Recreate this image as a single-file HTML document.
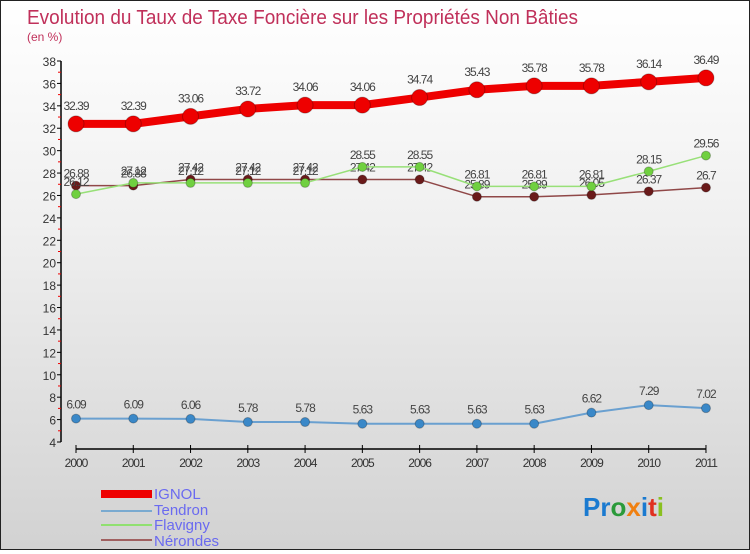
<!DOCTYPE html>
<html><head><meta charset="utf-8"><style>
html,body{margin:0;padding:0;}
body{width:750px;height:550px;overflow:hidden;font-family:"Liberation Sans","DejaVu Sans",sans-serif;}
#wrap{position:relative;width:748px;height:548px;border:1px solid #222;background:linear-gradient(#ffffff,#f0f0f0 40%,#d2d2d2);}
svg text{font-family:"Liberation Sans","DejaVu Sans",sans-serif;}
</style></head><body>
<div id="wrap">
<svg id="chart" width="748" height="548">
<text x="26" y="23" font-size="20" fill="#c0305a" textLength="551" lengthAdjust="spacingAndGlyphs">Evolution du Taux de Taxe Foncière sur les Propriétés Non Bâties</text>
<text x="26" y="40" font-size="12" fill="#c0305a">(en %)</text>
<g id="axes"></g><g id="series"></g>
<g>
<rect x="100" y="489" width="51" height="8" fill="#e00"/>
<text x="153" y="498" font-size="15" fill="#6a6af0">IGNOL</text>
<rect x="100" y="509" width="51" height="2" fill="#7aaad0"/>
<text x="153" y="514" font-size="15" fill="#6a6af0">Tendron</text>
<rect x="100" y="523" width="51" height="2" fill="#90e070"/>
<text x="153" y="529" font-size="15" fill="#6a6af0">Flavigny</text>
<rect x="100" y="538" width="51" height="2" fill="#a06060"/>
<text x="153" y="545" font-size="15" fill="#6a6af0">Nérondes</text>
</g>
<text x="582" y="515" font-size="26" font-weight="bold"><tspan fill="#1a7ad0">Pr</tspan><tspan fill="#2a9a3a">o</tspan><tspan fill="#f08010">x</tspan><tspan fill="#1a7ad0">i</tspan><tspan fill="#e03020">t</tspan><tspan fill="#8ac020">i</tspan></text>
</svg></div>
<script>
const years=["2000","2001","2002","2003","2004","2005","2006","2007","2008","2009","2010","2011"];
const yTicks=[4,6,8,10,12,14,16,18,20,22,24,26,28,30,32,34,36,38];
const ignol=[32.39,32.39,33.06,33.72,34.06,34.06,34.74,35.43,35.78,35.78,36.14,36.49];
const tendron=[6.09,6.09,6.06,5.78,5.78,5.63,5.63,5.63,5.63,6.62,7.29,7.02];
const flavigny=[26.12,27.12,27.12,27.12,27.12,28.55,28.55,26.81,26.81,26.81,28.15,29.56];
const nerondes=[26.88,26.88,27.42,27.42,27.42,27.42,27.42,25.89,25.89,26.05,26.37,26.7];
const NS="http://www.w3.org/2000/svg";
const X=i=>75+i*57.27;
const Y=v=>441-(v-4)*(381/34);
function mk(t,a,p){const e=document.createElementNS(NS,t);for(const k in a)e.setAttribute(k,a[k]);p.appendChild(e);return e;}
const ax=document.getElementById('axes');
const ya=mk('line',{x1:60,y1:Y(38),x2:60,y2:Y(4),stroke:'#000','stroke-width':1.5},ax);


yTicks.forEach(v=>{
 mk('line',{x1:56,y1:Y(v),x2:60,y2:Y(v),stroke:'#000'},ax);
 if(v<38)mk('line',{x1:57,y1:Y(v+1),x2:60,y2:Y(v+1),stroke:'#e00'},ax);
 const t=mk('text',{x:55,y:Y(v)+5,'font-size':12,fill:'#333','text-anchor':'end'},ax);
 t.textContent=v;
 
 
});
const xa=mk('line',{x1:75,y1:448,x2:X(11),y2:448,stroke:'#000','stroke-width':1.5},ax);


years.forEach((y,i)=>{
 mk('line',{x1:X(i),y1:444,x2:X(i),y2:452,stroke:'#000'},ax);
 const t=mk('text',{x:X(i),y:466,'font-size':12,fill:'#333','text-anchor':'middle','letter-spacing':'-1'},ax);
 t.textContent=y;
 
 
});
const sg=document.getElementById('series');
function series(name,data,color,lw,r,dotFill,labelDy){
 const g=mk('g',{},sg);
 
 
 mk('polyline',{points:data.map((v,i)=>X(i)+','+Y(v)).join(' '),fill:'none',stroke:color,'stroke-width':lw,'stroke-linejoin':'round'},g);
 data.forEach((v,i)=>{
  const c=mk('circle',{cx:X(i),cy:Y(v),r:r,fill:dotFill,stroke:'rgba(0,0,0,0.25)','stroke-width':1},g);
  
  
  const t=mk('text',{x:X(i),y:Y(v)+labelDy,'font-size':12,fill:'#444','text-anchor':'middle','letter-spacing':'-1'},g);
  t.textContent=String(v);
  
  
 });
}
series('nerondes',nerondes,'#904848',1.5,4.5,'#6a1a1a',-8);
series('flavigny',flavigny,'#98e078',1.5,4.5,'#70d040',-8);
series('tendron',tendron,'#6aa0d0',2,4.5,'#3a88c8',-10);
series('ignol',ignol,'#ee0000',8,8,'#ee0000',-14);
</script>
</body></html>
